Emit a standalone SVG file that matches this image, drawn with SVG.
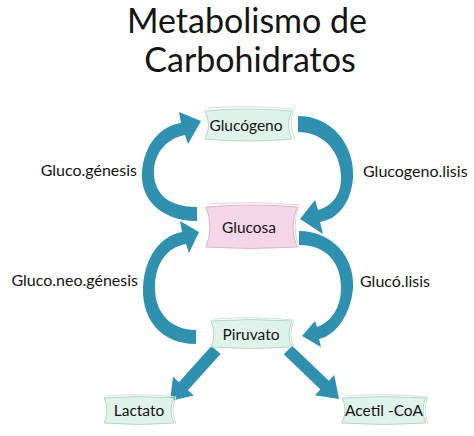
<svg xmlns="http://www.w3.org/2000/svg" width="474" height="436" viewBox="0 0 474 436">
<style>
text{font-family:Lato,"Open Sans","Liberation Sans",sans-serif;fill:#141414}
.title{font-size:34px;text-anchor:middle}
.lbl{font-size:16px}
.nt{font-size:15.5px;text-anchor:middle}
.arr{fill:#2f91af}
.green{fill:#e0f3ea;stroke:#b7d6c7;stroke-width:1}
.pink{fill:#f5d6e8;stroke:#d9b5ca;stroke-width:1}
.back{fill:none;stroke:#cfe3d9;stroke-width:1}
</style>
<rect width="474" height="436" fill="#ffffff"/>
<g id="title">
<text class="title" x="247" y="33">Metabolismo de</text>
<text class="title" x="250" y="72">Carbohidratos</text>
</g>
<g id="connectors">
<path class="arr" d="M197,221 C160,221 140,198 142,172 C144,145 160,126 181,123 L179,112 L201,121 L188,144 L185,135 C168,138 154,152 154,172 C154,195 170,207 197,207 Z"/>
<path class="arr" d="M196,344 C160,344 142,318 143,288 C144,258 160,236 182,232 L180,221 L199,232 L189,253 L186,244 C168,247 155,262 155,288 C155,312 170,330 196,330 Z"/>
<path class="arr" d="M298,116 C332,116 355,145 353,178 C351,203 338,219 320,222 L323,234 L300,219 L315,200 L318,210 C332,206 341,195 341,178 C341,152 324,132 298,132 Z"/>
<path class="arr" d="M299,231 C333,231 355,258 353,288 C351,313 337,335 319,339 L321,347 L302,336 L315,321 L317,327 C331,322 341,308 341,288 C341,262 326,245 299,245 Z"/>
<polygon class="arr" points="211.5,346 178.9,382.2 173,376.8 170,401 193.8,395.6 187.9,390.2 220.5,354"/>
<polygon class="arr" points="292.2,345.7 328.8,380.8 334.3,375 339,399 314.9,395.2 320.4,389.4 283.8,354.3"/>
</g>
<g id="glucogeno">
<path class="back" d="M208,108 Q250,105 294,109 Q288,124 295,140"/>
<path class="green" d="M205,111 Q248,107 292,111 Q285,125 292,139 Q248,143 205,139 Q212,125 205,111 Z"/>
<text class="nt" x="246" y="131">Glucógeno</text>
</g>
<g id="glucosa">
<path class="back" d="M209,204 Q252,201 299,205 Q291,226 299,248" style="stroke:#e8cddc"/>
<path class="pink" d="M206,207 Q251,203 297,207 Q289,227 297,247 Q251,250 206,247 Q214,227 206,207 Z"/>
<text class="nt" x="249" y="233">Glucosa</text>
</g>
<g id="piruvato">
<path class="back" d="M214,319 Q252,316 294,320 Q288,334 294,348"/>
<path class="green" d="M211,321 Q251,318 292,321 Q286,334 292,347 Q251,350 211,347 Q217,334 211,321 Z"/>
<text class="nt" x="251" y="340">Piruvato</text>
</g>
<g id="lactato">
<path class="back" d="M107,396 Q140,393 176,397 Q170,410 176,424"/>
<path class="green" d="M104,398 Q139,395 174,398 Q168,410 174,423 Q139,426 104,423 Q110,410 104,398 Z"/>
<text class="nt" x="139" y="416">Lactato</text>
</g>
<g id="acetil">
<path class="back" d="M345,396 Q385,393 428,397 Q422,410 428,424"/>
<path class="green" d="M342,398 Q384,395 426,398 Q420,410 426,423 Q384,426 342,423 Q348,410 342,398 Z"/>
<text class="nt" x="384" y="416">Acetil -CoA</text>
</g>
<g id="labels">
<text class="lbl" x="137" y="176" text-anchor="end">Gluco.génesis</text>
<text class="lbl" x="138" y="286" text-anchor="end">Gluco.neo.génesis</text>
<text class="lbl" x="363" y="177">Glucogeno.lisis</text>
<text class="lbl" x="360" y="287">Glucó.lisis</text>
</g>
</svg>
